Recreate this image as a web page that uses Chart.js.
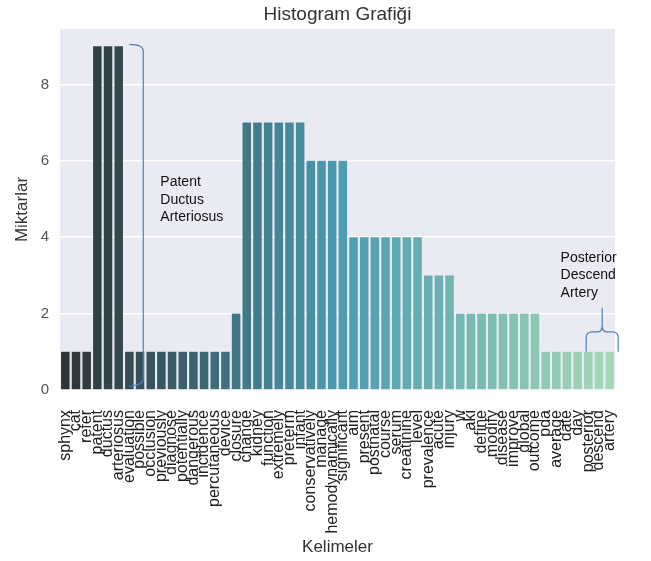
<!DOCTYPE html>
<html lang="tr">
<head>
<meta charset="utf-8">
<title>Histogram Grafiği</title>
<script src="https://cdn.jsdelivr.net/npm/chart.js@4.4.0/dist/chart.umd.min.js"></script>
<style>
  html, body { margin: 0; padding: 0; background: #fff; }
</style>
</head>
<body>
<canvas id="histogram" width="651" height="561"></canvas>
<script>
// Kelimeler ve frekanslari
const kelimeler = [
    'sphynx', 'cat', 'refer', 'patent', 'ductus', 'arteriosus', 'evaluation',
    'possible', 'occlusion', 'previously', 'diagnose', 'potentially', 'dangerous',
    'incidence', 'percutaneous', 'device', 'closure', 'change', 'kidney', 'function',
    'extremely', 'preterm', 'infant', 'conservatively', 'manage', 'hemodynamically',
    'significant', 'aim', 'present', 'postnatal', 'course', 'serum', 'creatinine',
    'level', 'prevalence', 'acute', 'injury', 'w', 'aki', 'define', 'modify',
    'disease', 'improve', 'global', 'outcome', 'pda', 'average', 'date', 'day',
    'posterior', 'descend', 'artery'
];
const miktarlar = [
    1, 1, 1, 9, 9, 9, 1,
    1, 1, 1, 1, 1, 1,
    1, 1, 1, 2, 7, 7, 7,
    7, 7, 7, 6, 6, 6,
    6, 4, 4, 4, 4, 4, 4,
    4, 3, 3, 3, 2, 2, 2, 2,
    2, 2, 2, 2, 1, 1, 1, 1,
    1, 1, 1
];
const yEtiketleri = [0, 2, 4, 6, 8];
const baslik = 'Histogram Grafiği';

const FONT = "'Liberation Sans', Arial, sans-serif";

// koyu griden acik yesile gecis (seaborn GnBu_d benzeri)
function renkSkalasi(n) {
    const duraklar = [[46, 52, 54], [75, 155, 176], [165, 216, 182]];
    const renkler = [];
    for (let i = 0; i < n; i++) {
        const t = n > 1 ? i / (n - 1) : 0;
        const k = t < 0.5 ? 0 : 1;
        const u = t < 0.5 ? t / 0.5 : (t - 0.5) / 0.5;
        const a = duraklar[k], b = duraklar[k + 1];
        const c = a.map((v, j) => Math.round(v + (b[j] - v) * u));
        renkler.push(`rgb(${c[0]},${c[1]},${c[2]})`);
    }
    return renkler;
}

// el ile eklenmis notlar (parantezler + yazilar)
const notlar = [
    { satirlar: ['Patent', 'Ductus', 'Arteriosus'], x: 8.9, y: 5.43 },
    { satirlar: ['Posterior', 'Descend', 'Artery'], x: 46.4, y: 3.46 }
];

const arkaPlan = {
    id: 'arkaPlan',
    beforeDraw(chart) {
        const { ctx, chartArea: a } = chart;
        ctx.save();
        ctx.fillStyle = '#eaeaf2';
        ctx.fillRect(a.left, a.top, a.right - a.left, a.bottom - a.top);
        // baslik cizim alaninin ortasina
        ctx.fillStyle = '#333';
        ctx.font = `19px ${FONT}`;
        ctx.textAlign = 'center';
        ctx.textBaseline = 'middle';
        ctx.fillText(baslik, (a.left + a.right) / 2, 15);
        ctx.restore();
    }
};

const notEklentisi = {
    id: 'notlar',
    afterDatasetsDraw(chart) {
        const { ctx } = chart;
        const xs = chart.scales.x, ys = chart.scales.y;
        const px = v => xs.getPixelForValue(v);
        const py = v => ys.getPixelForValue(v);

        ctx.save();
        ctx.strokeStyle = '#4f7fc0';
        ctx.lineWidth = 1.2;

        // Patent Ductus Arteriosus parantezi (dikey)
        const xa = px(6.0), xb = px(7.3);
        const yt = py(9.05), yb = py(0.13);
        ctx.beginPath();
        ctx.moveTo(xa, yt);
        ctx.quadraticCurveTo(xb, yt, xb, yt + 7);
        ctx.lineTo(xb, yb - 6);
        ctx.quadraticCurveTo(xb, yb, xa, yb + 1);
        ctx.stroke();

        // Posterior Descend Artery parantezi (yatay)
        const xl = px(48.8), xm = px(50.3), xr = px(51.8);
        const yLeg = py(1.0), yTop = py(1.52), yTip = py(2.15);
        ctx.beginPath();
        ctx.moveTo(xl, yLeg);
        ctx.lineTo(xl, yTop + 6);
        ctx.quadraticCurveTo(xl, yTop, xl + 6, yTop);
        ctx.lineTo(xm - 5, yTop);
        ctx.quadraticCurveTo(xm, yTop, xm, yTop - 6);
        ctx.lineTo(xm, yTip);
        ctx.moveTo(xm, yTop - 6);
        ctx.quadraticCurveTo(xm, yTop, xm + 5, yTop);
        ctx.lineTo(xr - 6, yTop);
        ctx.quadraticCurveTo(xr, yTop, xr, yTop + 6);
        ctx.lineTo(xr, yLeg);
        ctx.stroke();

        ctx.fillStyle = '#111';
        ctx.font = `14px ${FONT}`;
        ctx.textAlign = 'left';
        ctx.textBaseline = 'middle';
        notlar.forEach(n => {
            n.satirlar.forEach((s, i) => ctx.fillText(s, px(n.x), py(n.y) + i * 17.5));
        });
        ctx.restore();
    }
};

const ctx = document.getElementById('histogram').getContext('2d');
new Chart(ctx, {
    type: 'bar',
    data: {
        labels: kelimeler,
        datasets: [{
            label: 'Miktar',
            data: miktarlar,
            backgroundColor: renkSkalasi(kelimeler.length),
            borderWidth: 0,
            barPercentage: 0.8,
            categoryPercentage: 1.0
        }]
    },
    options: {
        responsive: false,
        devicePixelRatio: 1,
        animation: false,
        layout: { padding: { top: 29, right: 36, left: 0, bottom: 0 } },
        plugins: {
            legend: { display: false },
            tooltip: { enabled: false },
            title: { display: false }
        },
        scales: {
            x: {
                grid: { display: false },
                border: { display: false },
                ticks: {
                    autoSkip: false,
                    maxRotation: 90,
                    minRotation: 90,
                    padding: 12,
                    color: '#222',
                    font: { family: FONT, size: 16 }
                },
                title: {
                    display: true,
                    text: 'Kelimeler',
                    color: '#333',
                    font: { family: FONT, size: 17 },
                    padding: { top: 0, bottom: 3 }
                },
                afterFit: s => { s.height = 171; }
            },
            y: {
                min: 0,
                max: 9.45,
                afterBuildTicks: s => { s.ticks = yEtiketleri.map(v => ({ value: v })); },
                grid: { color: '#ffffff', lineWidth: 1.5, drawTicks: false },
                border: { display: false },
                ticks: {
                    padding: 11,
                    color: '#555',
                    font: { family: FONT, size: 15 }
                },
                title: {
                    display: true,
                    text: 'Miktarlar',
                    color: '#333',
                    font: { family: FONT, size: 17 },
                    padding: { top: 12, bottom: 0 }
                },
                afterFit: s => { s.width = 60; }
            }
        }
    },
    plugins: [arkaPlan, notEklentisi]
});
</script>
</body>
</html>
